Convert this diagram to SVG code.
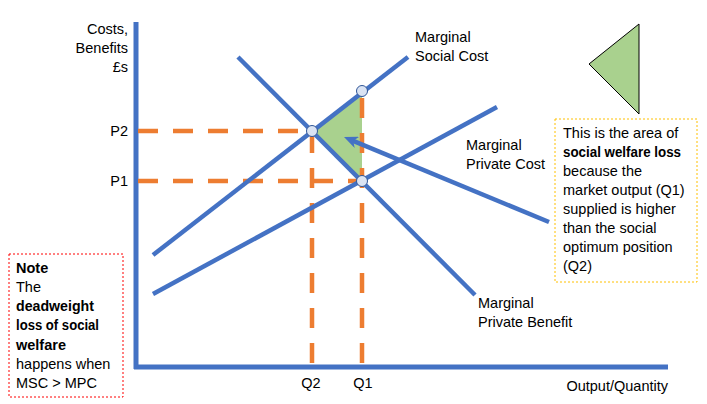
<svg xmlns="http://www.w3.org/2000/svg" width="707" height="404" viewBox="0 0 707 404">
<style>
text{font-family:"Liberation Sans",Arial,sans-serif;font-size:14.5px;fill:#000}
.b{font-weight:bold}
.r{text-anchor:end}
.m{text-anchor:middle}
.curve{stroke:#4472C4;stroke-width:4.5;fill:none}
.axis{stroke:#4472C4;stroke-width:5;fill:none}
.dash{stroke:#ED7D31;stroke-width:4.5;stroke-dasharray:20 15;fill:none}
.pt{fill:#DAE3F3;stroke:#2F5597;stroke-width:1}
</style>
<defs>
<marker id="ah" viewBox="0 0 14 12" refX="6" refY="6" markerWidth="14" markerHeight="12" markerUnits="userSpaceOnUse" orient="auto">
<path d="M0,0 L14,6 L0,12 L4,6 Z" fill="#4472C4"/>
</marker>
</defs>
<rect width="707" height="404" fill="#fff"/>

<g id="welfare-loss-area">
<polygon points="312,131 362,91 362,181" fill="#A9D18E"/>
</g>

<g id="axes">
<line class="axis" x1="136" y1="22" x2="136" y2="369"/>
<line class="axis" x1="134" y1="367" x2="668" y2="367"/>
<text class="r" x="128" y="34">Costs,</text>
<text class="r" x="128" y="53">Benefits</text>
<text class="r" x="128" y="72">£s</text>
<text class="r" x="128" y="136">P2</text>
<text class="r" x="128" y="186">P1</text>
<text class="m" x="311" y="388">Q2</text>
<text class="m" x="363" y="388">Q1</text>
<text class="r" x="668" y="391">Output/Quantity</text>
</g>

<g id="guides">
<line class="dash" x1="138" y1="131" x2="312" y2="131"/>
<line class="dash" x1="138" y1="181" x2="362" y2="181"/>
<line class="dash" x1="312" y1="363" x2="312" y2="131"/>
<line class="dash" x1="362" y1="363" x2="362" y2="91"/>
</g>

<g id="connectors">
<line id="msc" class="curve" x1="153" y1="255" x2="408" y2="57"/>
<line id="mpb" class="curve" x1="238" y1="57" x2="475" y2="295"/>
<line id="mpc" class="curve" x1="153" y1="294" x2="497" y2="107"/>
<line id="pointer" class="curve" stroke-width="4" x1="549" y1="222" x2="351.4" y2="140.1" marker-end="url(#ah)"/>
</g>

<g id="points">
<circle class="pt" cx="312" cy="131" r="5.5"/>
<circle class="pt" cx="362" cy="91" r="5.5"/>
<circle class="pt" cx="362" cy="181" r="5.5"/>
</g>

<g id="label-msc">
<text x="415" y="42">Marginal</text>
<text x="415" y="61">Social Cost</text>
</g>
<g id="label-mpc">
<text x="466" y="150">Marginal</text>
<text x="466" y="169">Private Cost</text>
</g>
<g id="label-mpb">
<text x="478" y="308">Marginal</text>
<text x="478" y="327">Private Benefit</text>
</g>

<g id="legend-triangle">
<polygon points="589,64 639,24 639,114" fill="#A9D18E" stroke="#000" stroke-width="1"/>
</g>

<g id="explanation-box">
<rect x="555" y="119" width="142" height="163" fill="#fff" stroke="#FFC000" stroke-width="1" stroke-dasharray="2 2"/>
<text x="563" y="138">This is the area of</text>
<text class="b" x="563" y="157" textLength="118" lengthAdjust="spacingAndGlyphs">social welfare loss</text>
<text x="563" y="176">because the</text>
<text x="563" y="195">market output (Q1)</text>
<text x="563" y="214">supplied is higher</text>
<text x="563" y="233">than the social</text>
<text x="563" y="252">optimum position</text>
<text x="563" y="271">(Q2)</text>
</g>

<g id="note-box">
<rect x="9" y="254" width="114" height="143" fill="#fff" stroke="#FF0000" stroke-width="1" stroke-dasharray="2 2"/>
<text class="b" x="16" y="273">Note</text>
<text x="16" y="292">The</text>
<text class="b" x="16" y="311" textLength="78" lengthAdjust="spacingAndGlyphs">deadweight</text>
<text class="b" x="16" y="330" textLength="83" lengthAdjust="spacingAndGlyphs">loss of social</text>
<text class="b" x="16" y="350">welfare</text>
<text x="16" y="369">happens when</text>
<text x="16" y="388">MSC &gt; MPC</text>
</g>
</svg>
